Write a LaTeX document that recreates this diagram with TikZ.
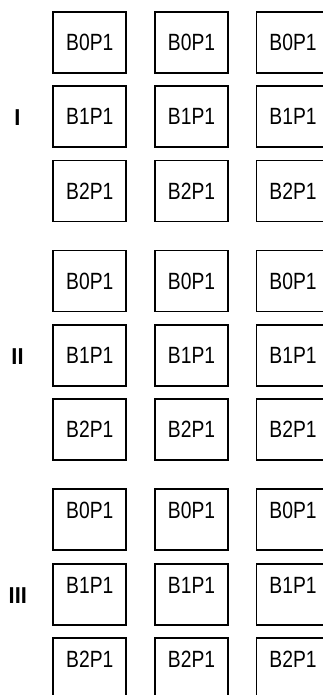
\documentclass[tikz,border=0pt]{standalone}
\usepackage{fontspec}
\setmainfont{Liberation Sans}[FakeStretch=0.82]
\newfontfamily\labfont{Liberation Sans Bold}[FakeStretch=0.95]
\begin{document}
\begin{tikzpicture}[x=1pt,y=-1pt,
  txt/.style={font=\fontsize{23.5}{28}\selectfont},
  cell/.style={txt, draw, line width=1.7pt, minimum width=73pt, minimum height=61pt, inner sep=0pt},
  toptext/.style={txt, anchor=center, yshift=-22.4pt, inner sep=0pt},
  grouplabel/.style={font=\labfont\fontsize{23}{28}\selectfont, inner sep=0pt}]
\useasboundingbox (0,0) rectangle (323,695);
\clip (0,0) rectangle (323,695);
% groups I and II: centred text
\foreach \g/\T in {1/11.7,2/250.5}{
  \foreach \rw/\off in {0/0,1/74.5,2/148.7}{
    \foreach \c/\x in {1/89.8,2/191.5,3/293}{
      \node[cell] (b\g-\rw-\c) at (\x,\T+30.5+\off) {B\rw P1};
    }}}
% group III: text near top
\foreach \rw/\off in {0/0,1/74.5,2/148.7}{
  \foreach \c/\x in {1/89.8,2/191.5,3/293}{
    \node[cell, label={[toptext]north:B\rw P1}] (b3-\rw-\c) at (\x,489.3+30.5+\off) {};
  }}
\node[grouplabel] (labI) at (17.5,118) {I};
\node[grouplabel] (labII) at (17.5,357) {II};
\node[grouplabel] (labIII) at (17.8,596) {III};
\end{tikzpicture}
\end{document}
